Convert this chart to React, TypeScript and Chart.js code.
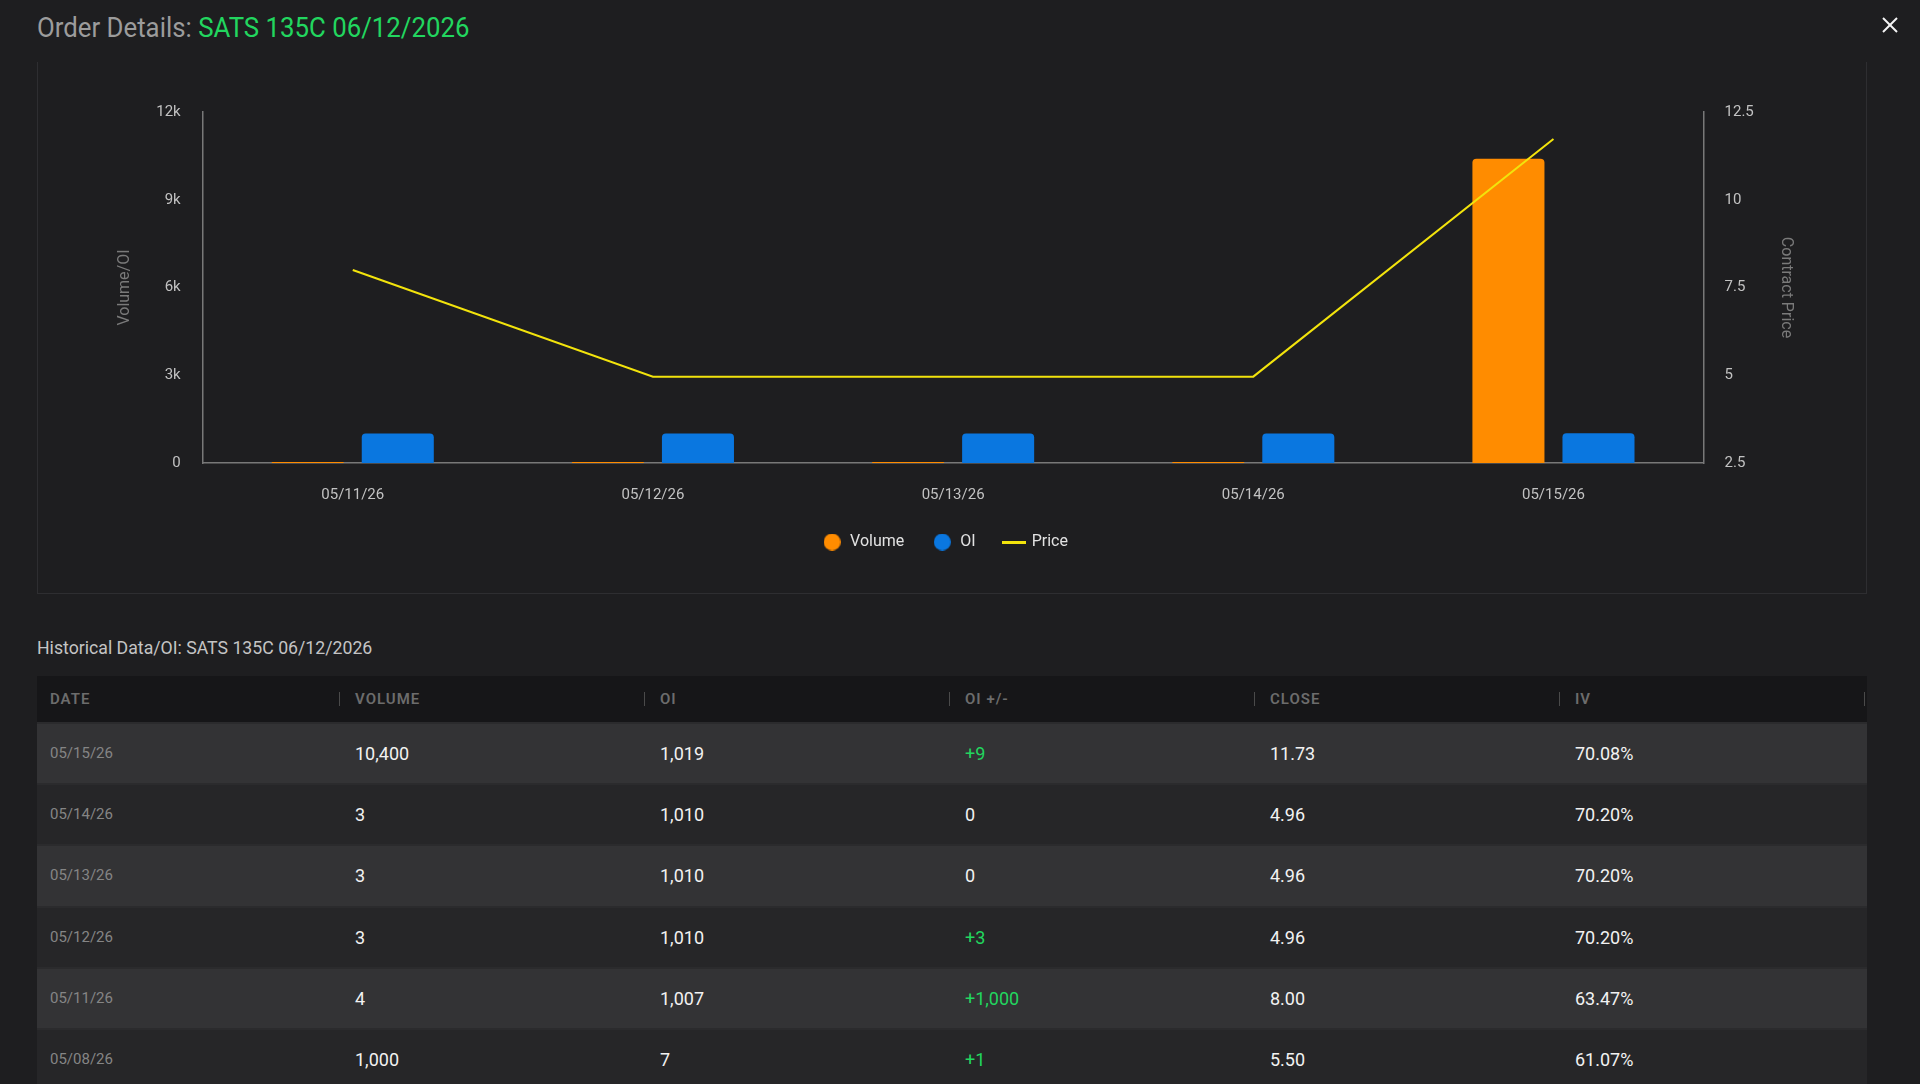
import React, { useEffect, useRef } from 'react';
import { Chart, registerables } from 'chart.js';

Chart.register(...registerables);

// ---- Chart data ----
const chartDates = ['05/11/26', '05/12/26', '05/13/26', '05/14/26', '05/15/26'];
const volumeValues = [4, 3, 3, 3, 10400];
const oiValues = [1007, 1010, 1010, 1010, 1019];
const priceValues = [8.0, 4.96, 4.96, 4.96, 11.73];
const seriesNames = ['Volume', 'OI', 'Price'];

// ---- Table data ----
const tableHeaders = ['DATE', 'VOLUME', 'OI', 'OI +/-', 'CLOSE', 'IV'];
const tableDates = ['05/15/26', '05/14/26', '05/13/26', '05/12/26', '05/11/26', '05/08/26'];
const tableVolume = ['10,400', '3', '3', '3', '4', '1,000'];
const tableOI = ['1,019', '1,010', '1,010', '1,010', '1,007', '7'];
const tableOIChange = ['+9', '0', '0', '+3', '+1,000', '+1'];
const tableClose = ['11.73', '4.96', '4.96', '4.96', '8.00', '5.50'];
const tableIV = ['70.08%', '70.20%', '70.20%', '70.20%', '63.47%', '61.07%'];

const titlePrefix = 'Order Details: ';
const contractName = 'SATS 135C 06/12/2026';

const ORANGE = '#ff8c00';
const BLUE = '#0a77e0';
const YELLOW = '#f2e30c';
const BG = '#1e1e20';
const GREEN = '#22d65f';
const FONT = 'Roboto, "Noto Sans", sans-serif';
const TICK = '#c2c2c2';

function makeCircle(color: string, d: number) {
  const c = document.createElement('canvas');
  c.width = d;
  c.height = d;
  const ctx = c.getContext('2d')!;
  ctx.fillStyle = color;
  ctx.beginPath();
  ctx.arc(d / 2, d / 2, d / 2, 0, Math.PI * 2);
  ctx.fill();
  return c;
}
function makeLine(color: string, w: number, h: number) {
  const c = document.createElement('canvas');
  c.width = w;
  c.height = h;
  const ctx = c.getContext('2d')!;
  ctx.fillStyle = color;
  ctx.fillRect(0, 0, w, h);
  return c;
}

const CW = 1828;
const CH = 519;

// moves the bottom legend closer to the x axis labels
const legendNudge = {
  id: 'legendNudge',
  afterLayout(chart: any) {
    if (chart.legend) {
      chart.legend.top -= 21;
      chart.legend.bottom -= 21;
    }
  },
};

function ChartPanel() {
  const ref = useRef<HTMLCanvasElement | null>(null);
  useEffect(() => {
    if (!ref.current) return;
    const markers = [makeCircle(ORANGE, 17), makeCircle(BLUE, 17), makeLine(YELLOW, 24, 3)];
    const axisBorder = { display: true, color: '#787878', width: 1.5 };
    const chart = new Chart(ref.current, {
      type: 'bar',
      data: {
        labels: chartDates,
        datasets: [
          {
            type: 'bar',
            label: seriesNames[0],
            data: volumeValues,
            backgroundColor: ORANGE,
            borderRadius: 4,
            borderSkipped: 'start',
            categoryPercentage: 0.6,
            barPercentage: 0.8,
            minBarLength: 1,
            yAxisID: 'y',
            order: 1,
          },
          {
            type: 'bar',
            label: seriesNames[1],
            data: oiValues,
            backgroundColor: BLUE,
            borderRadius: 4,
            borderSkipped: 'start',
            categoryPercentage: 0.6,
            barPercentage: 0.8,
            yAxisID: 'y',
            order: 1,
          },
          {
            type: 'line',
            label: seriesNames[2],
            data: priceValues,
            borderColor: YELLOW,
            backgroundColor: YELLOW,
            borderWidth: 2,
            pointRadius: 0,
            tension: 0,
            yAxisID: 'y1',
            order: 0,
          },
        ],
      } as any,
      plugins: [legendNudge],
      options: {
        animation: false,
        responsive: false,
        devicePixelRatio: 1,
        layout: { padding: { top: 50, left: 36, right: 50, bottom: 0 } },
        font: { family: FONT },
        plugins: {
          tooltip: { enabled: false },
          legend: {
            position: 'bottom',
            labels: {
              usePointStyle: true,
              pointStyleWidth: 20,
              boxHeight: 16,
              padding: 28,
              color: '#e2e2e2',
              font: { family: FONT, size: 16 },
              sort: (a: any, b: any) => a.datasetIndex - b.datasetIndex,
              generateLabels: (c: any) =>
                (Chart.defaults.plugins.legend.labels.generateLabels as any)(c).map((l: any) => ({
                  ...l,
                  pointStyle: markers[l.datasetIndex],
                })),
            },
          },
        },
        scales: {
          x: {
            offset: true,
            grid: { display: false, drawTicks: false },
            border: axisBorder,
            ticks: { color: TICK, font: { family: FONT, size: 15 }, padding: 23, maxRotation: 0 },
          },
          y: {
            position: 'left',
            min: 0,
            max: 12000,
            grid: { display: false, drawTicks: false },
            border: axisBorder,
            ticks: {
              stepSize: 3000,
              color: TICK,
              font: { family: FONT, size: 15 },
              padding: 22,
              callback: (v: any) => (Number(v) === 0 ? '0' : Number(v) / 1000 + 'k'),
            },
            title: {
              display: true,
              text: 'Volume/OI',
              color: '#7a7a7a',
              font: { family: FONT, size: 16 },
              padding: { top: 41, bottom: 0 },
            },
          },
          y1: {
            position: 'right',
            min: 2.5,
            max: 12.5,
            grid: { display: false, drawTicks: false },
            border: axisBorder,
            ticks: { stepSize: 2.5, color: TICK, font: { family: FONT, size: 15 }, padding: 21 },
            title: {
              display: true,
              text: 'Contract Price',
              color: '#7a7a7a',
              font: { family: FONT, size: 16 },
              padding: { top: 20, bottom: 2 },
            },
          },
        },
      } as any,
    });
    return () => chart.destroy();
  }, []);
  return (
    <div
      style={{
        position: 'absolute',
        left: 37,
        top: 62,
        width: 1828,
        height: 531,
        borderLeft: '1px solid #2e2e31',
        borderRight: '1px solid #2e2e31',
        borderBottom: '1px solid #2e2e31',
      }}
    >
      <canvas ref={ref} width={CW} height={CH} style={{ display: 'block', width: CW, height: CH }} />
    </div>
  );
}

const colW = 305;
const rowH = 61.2;

function Table() {
  const cols = [tableDates, tableVolume, tableOI, tableOIChange, tableClose, tableIV];
  return (
    <div style={{ position: 'absolute', left: 37, top: 676, width: 1830 }}>
      <div style={{ position: 'relative', height: 46, background: '#161618' }}>
        {tableHeaders.map((h, i) => (
          <div key={h} style={{ position: 'absolute', left: i * colW, top: 0, width: colW, height: 46 }}>
            <span
              style={{
                position: 'absolute',
                left: 13,
                top: 0,
                lineHeight: '46px',
                fontSize: 15,
                fontWeight: 600,
                color: '#6c6c6c',
                fontFamily: FONT,
                letterSpacing: 1,
              }}
            >
              {h}
            </span>
            <span
              style={{
                position: 'absolute',
                right: 2,
                top: 16,
                width: 1.5,
                height: 14,
                background: '#4a4a4a',
              }}
            />
          </div>
        ))}
      </div>
      {tableDates.map((d, r) => (
        <div
          key={d}
          style={{
            position: 'absolute',
            left: 0,
            top: 46 + r * rowH,
            width: 1830,
            height: rowH,
            background: r % 2 === 0 ? '#333335' : '#262628',
            borderTop: '2px solid #2b2b2d',
            boxSizing: 'border-box',
          }}
        >
          {cols.map((col, c) => {
            const v = col[r];
            const isDate = c === 0;
            const isChange = c === 3;
            const color = isDate ? '#858585' : isChange && v.startsWith('+') ? GREEN : '#f2f2f2';
            return (
              <span
                key={c}
                style={{
                  position: 'absolute',
                  left: c * colW + 13,
                  top: 0,
                  lineHeight: rowH - 2 + 'px',
                  fontSize: isDate ? 15 : 18,
                  color,
                  fontFamily: FONT,
                }}
              >
                {v}
              </span>
            );
          })}
        </div>
      ))}
    </div>
  );
}

export default function App() {
  return (
    <div
      style={{
        position: 'fixed',
        left: 0,
        top: 0,
        width: 1920,
        height: 1084,
        background: BG,
        overflow: 'hidden',
        fontFamily: FONT,
      }}
    >
      <div
        style={{
          position: 'absolute',
          left: 37,
          top: 13,
          fontSize: 27,
          lineHeight: '30px',
          color: '#9c9c9c',
          whiteSpace: 'nowrap',
          transform: 'scaleX(0.955)',
          transformOrigin: 'left center',
        }}
      >
        {titlePrefix}
        <span style={{ color: GREEN }}>{contractName}</span>
      </div>
      <svg style={{ position: 'absolute', left: 1882, top: 17 }} width={16} height={16}>
        <line x1={1} y1={1} x2={15} y2={15} stroke="#f5f5f5" strokeWidth={2} />
        <line x1={15} y1={1} x2={1} y2={15} stroke="#f5f5f5" strokeWidth={2} />
      </svg>
      <ChartPanel />
      <div
        style={{
          position: 'absolute',
          left: 37,
          top: 636,
          fontSize: 17.7,
          lineHeight: '24px',
          color: '#c4c4c4',
          whiteSpace: 'nowrap',
        }}
      >
        {'Historical Data/OI: ' + contractName}
      </div>
      <Table />
    </div>
  );
}
